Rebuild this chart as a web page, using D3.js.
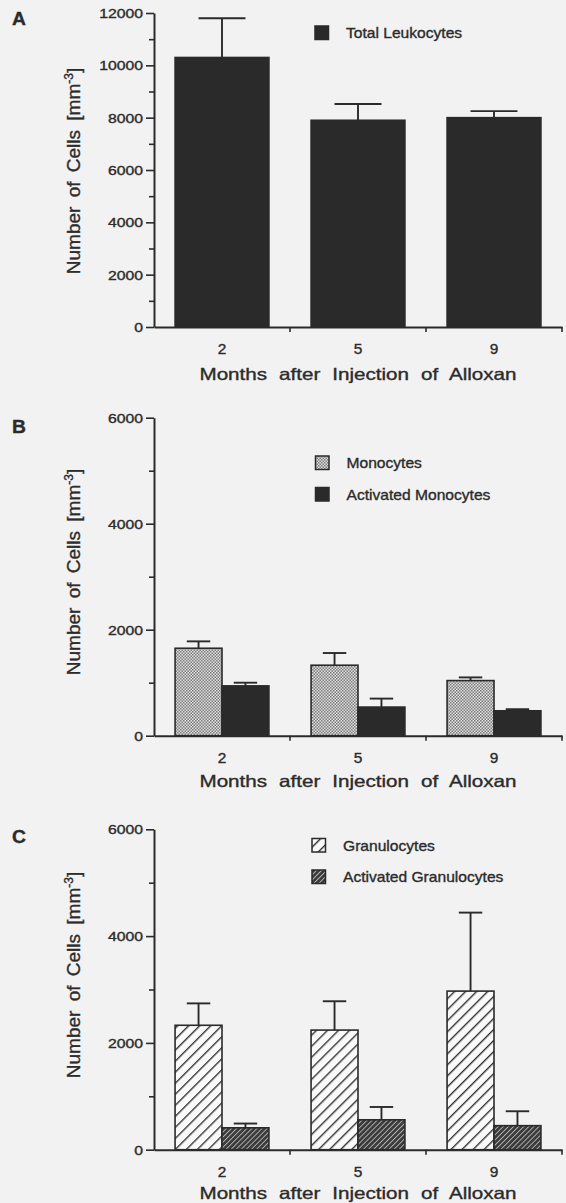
<!DOCTYPE html>
<html>
<head>
<meta charset="utf-8">
<script src="https://cdn.jsdelivr.net/npm/d3@7/dist/d3.min.js"></script>
<style>
  html, body { margin: 0; padding: 0; background: #f2f2f2; }
  svg { display: block; }
  text { font-family: "Liberation Sans", Arial, Helvetica, sans-serif; fill: #2b2b2b;
         stroke: #2b2b2b; stroke-width: 0.35px; }
</style>
</head>
<body>
<svg id="chart" width="566" height="1203"></svg>
<script>
// ---- data -------------------------------------------------------------
const months = ["2", "5", "9"];

const leukocytes      = [10300, 7900, 8000];
const leukocytesSem   = [1500, 620, 250];

const monocytes       = [1650, 1330, 1040];
const monocytesSem    = [130, 230, 60];
const actMonocytes    = [940, 540, 470];
const actMonocytesSem = [60, 160, 30];

const granulocytes       = [2330, 2240, 2970];
const granulocytesSem    = [410, 540, 1470];
const actGranulocytes    = [410, 560, 450];
const actGranulocytesSem = [80, 240, 270];

const yTicksA = [0, 2000, 4000, 6000, 8000, 10000, 12000];
const yTicksBC = [0, 2000, 4000, 6000];

// ---- drawing ----------------------------------------------------------
const svg = d3.select("#chart");
svg.append("rect").attr("width", 566).attr("height", 1203).attr("fill", "#f2f2f2");

const INK = "#2b2b2b";
const DARK = "#2a2a2a";
const defs = svg.append("defs");

// fine stipple used for monocytes
const stip = defs.append("pattern").attr("id", "stipple")
  .attr("patternUnits", "userSpaceOnUse").attr("width", 3).attr("height", 3);
stip.append("rect").attr("width", 3).attr("height", 3).attr("fill", "#dedede");
stip.append("rect").attr("width", 1.5).attr("height", 1.5).attr("fill", "#7d7d7d");
stip.append("rect").attr("x", 1.5).attr("y", 1.5).attr("width", 1.5).attr("height", 1.5).attr("fill", "#7d7d7d");

// open diagonal hatch used for granulocytes
const hatch = defs.append("pattern").attr("id", "hatchLight")
  .attr("patternUnits", "userSpaceOnUse").attr("width", 7.8).attr("height", 7.8)
  .attr("patternTransform", "rotate(45)");
hatch.append("rect").attr("width", 7.8).attr("height", 7.8).attr("fill", "#fafafa");
hatch.append("line").attr("x1", 0.7).attr("y1", 0).attr("x2", 0.7).attr("y2", 7.8)
  .attr("stroke", "#333").attr("stroke-width", 1.4);

// dense dark hatch used for activated granulocytes
const hatchD = defs.append("pattern").attr("id", "hatchDark")
  .attr("patternUnits", "userSpaceOnUse").attr("width", 3.6).attr("height", 3.6)
  .attr("patternTransform", "rotate(45)");
hatchD.append("rect").attr("width", 3.6).attr("height", 3.6).attr("fill", "#3a3a3a");
hatchD.append("line").attr("x1", 0.5).attr("y1", 0).attr("x2", 0.5).attr("y2", 3.6)
  .attr("stroke", "#b8b8b8").attr("stroke-width", 0.9);

function label(parent, x, y, str, size, sx, anchor, weight) {
  return parent.append("text")
    .attr("transform", `translate(${x},${y}) scale(${sx},1)`)
    .attr("text-anchor", anchor || "start")
    .style("font-size", size + "px")
    .style("font-weight", weight || "normal")
    .text(str);
}

function drawPanel(opt) {
  const g = svg.append("g");
  const xRange = [154, 562];
  const x = d3.scaleBand().domain(months).range(xRange)
    .paddingInner(0.31).paddingOuter(0.155);
  const y = d3.scaleLinear().domain([0, opt.max]).range(opt.yRange);
  const inner = d3.scaleBand().domain(opt.series.map(s => s.name))
    .range([0, x.bandwidth()]).padding(0);

  // y axis with labelled major ticks
  const TSX = 1.25;
  const yAxis = d3.axisLeft(y).tickValues(opt.ticks).tickSize(8).tickSizeOuter(0)
    .tickPadding(3).tickFormat(d3.format("d"));
  const ya = g.append("g").attr("transform", `translate(${xRange[0]},0)`).call(yAxis);
  ya.select(".domain").attr("stroke", INK).attr("stroke-width", 2);
  ya.selectAll(".tick line").attr("stroke", INK).attr("stroke-width", 1.6);
  ya.selectAll(".tick text")
    .attr("x", -11 / TSX).attr("dy", "0.36em")
    .attr("transform", `scale(${TSX},1)`)
    .style("font-size", "12.6px").attr("fill", INK);

  // minor ticks halfway between labels
  const minor = d3.range(1000, opt.max, 2000);
  const ym = d3.axisLeft(y).tickValues(minor).tickSize(5).tickFormat("");
  const yma = g.append("g").attr("transform", `translate(${xRange[0]},0)`).call(ym);
  yma.select(".domain").remove();
  yma.selectAll(".tick line").attr("stroke", INK).attr("stroke-width", 1.6);

  // x axis: month labels at band centres, ticks at band edges
  const xAxis = d3.axisBottom(x).tickSize(0).tickSizeOuter(0).tickPadding(0);
  const xa = g.append("g").attr("transform", `translate(0,${y(0)})`).call(xAxis);
  xa.select(".domain").attr("stroke", INK).attr("stroke-width", 2);
  xa.selectAll(".tick text").attr("y", 0).attr("dy", 0)
    .attr("transform", "translate(0,27) scale(1.1,1)")
    .style("font-size", "14px").attr("fill", INK);
  months.forEach((m, i) => {
    const bx = xRange[0] + (i + 1) * x.step();
    g.append("line").attr("x1", bx).attr("x2", bx)
      .attr("y1", y(0)).attr("y2", y(0) + 5)
      .attr("stroke", INK).attr("stroke-width", 1.6);
  });

  // bars and upper error bars
  opt.series.forEach(s => {
    const w = inner.bandwidth();
    const bars = g.append("g");
    bars.selectAll("rect").data(months).join("rect")
      .attr("x", (m) => x(m) + inner(s.name))
      .attr("y", (m, i) => y(s.values[i]))
      .attr("width", w)
      .attr("height", (m, i) => y(0) - y(s.values[i]))
      .attr("fill", s.fill)
      .attr("stroke", DARK).attr("stroke-width", 1.6);
    const eb = g.append("g").attr("stroke", DARK).attr("stroke-width", 1.9);
    months.forEach((m, i) => {
      const cx = x(m) + inner(s.name) + w / 2;
      const top = y(s.values[i] + s.sem[i]);
      eb.append("line").attr("x1", cx).attr("x2", cx)
        .attr("y1", y(s.values[i])).attr("y2", top);
      eb.append("line").attr("x1", cx - w / 4).attr("x2", cx + w / 4)
        .attr("y1", top).attr("y2", top);
    });
  });

  // legend
  opt.series.forEach((s, i) => {
    const ly = opt.legend.y + i * opt.legend.gap;
    g.append("rect").attr("x", opt.legend.x).attr("y", ly)
      .attr("width", 13.5).attr("height", 13.5)
      .attr("fill", s.fill).attr("stroke", DARK).attr("stroke-width", 1.5);
    label(g, opt.legend.x + 31, ly + 12, s.label, 15, 1.04, "start");
  });

  // panel letter
  label(g, 12, opt.yRange[1] + opt.letterDy, opt.letter, 17.5, 1.1, "start", "bold");

  // axis titles
  const midX = (xRange[0] + xRange[1]) / 2;
  label(g, midX, y(0) + opt.titleDy, "Months after Injection of Alloxan", 16.5, 1.25, "middle")
    .style("word-spacing", "5px");

  const yt = g.append("text")
    .attr("transform", `translate(80,${opt.yLabelY}) rotate(-90)`)
    .attr("text-anchor", "middle")
    .style("font-size", "19px")
    .style("word-spacing", "4px");
  yt.append("tspan").text("Number of Cells [mm");
  yt.append("tspan").text("-3").style("font-size", "12px").attr("dy", "-0.55em");
  yt.append("tspan").text("]").attr("dy", "0.35em");
}

drawPanel({
  letter: "A", letterDy: 12, max: 12000, ticks: yTicksA, yRange: [327, 13],
  titleDy: 53, yLabelY: 171,
  legend: { x: 315, y: 26, gap: 31 },
  series: [
    { name: "total", label: "Total Leukocytes", values: leukocytes, sem: leukocytesSem, fill: DARK }
  ]
});

drawPanel({
  letter: "B", letterDy: 15, max: 6000, ticks: yTicksBC, yRange: [735.7, 417.7],
  titleDy: 51, yLabelY: 572,
  legend: { x: 315.5, y: 456, gap: 31.5 },
  series: [
    { name: "mono", label: "Monocytes", values: monocytes, sem: monocytesSem, fill: "url(#stipple)" },
    { name: "actMono", label: "Activated Monocytes", values: actMonocytes, sem: actMonocytesSem, fill: DARK }
  ]
});

drawPanel({
  letter: "C", letterDy: 14, max: 6000, ticks: yTicksBC, yRange: [1149.7, 829.3],
  titleDy: 49.5, yLabelY: 975,
  legend: { x: 312, y: 838.5, gap: 31.5 },
  series: [
    { name: "gran", label: "Granulocytes", values: granulocytes, sem: granulocytesSem, fill: "url(#hatchLight)" },
    { name: "actGran", label: "Activated Granulocytes", values: actGranulocytes, sem: actGranulocytesSem, fill: "url(#hatchDark)" }
  ]
});
</script>
</body>
</html>
